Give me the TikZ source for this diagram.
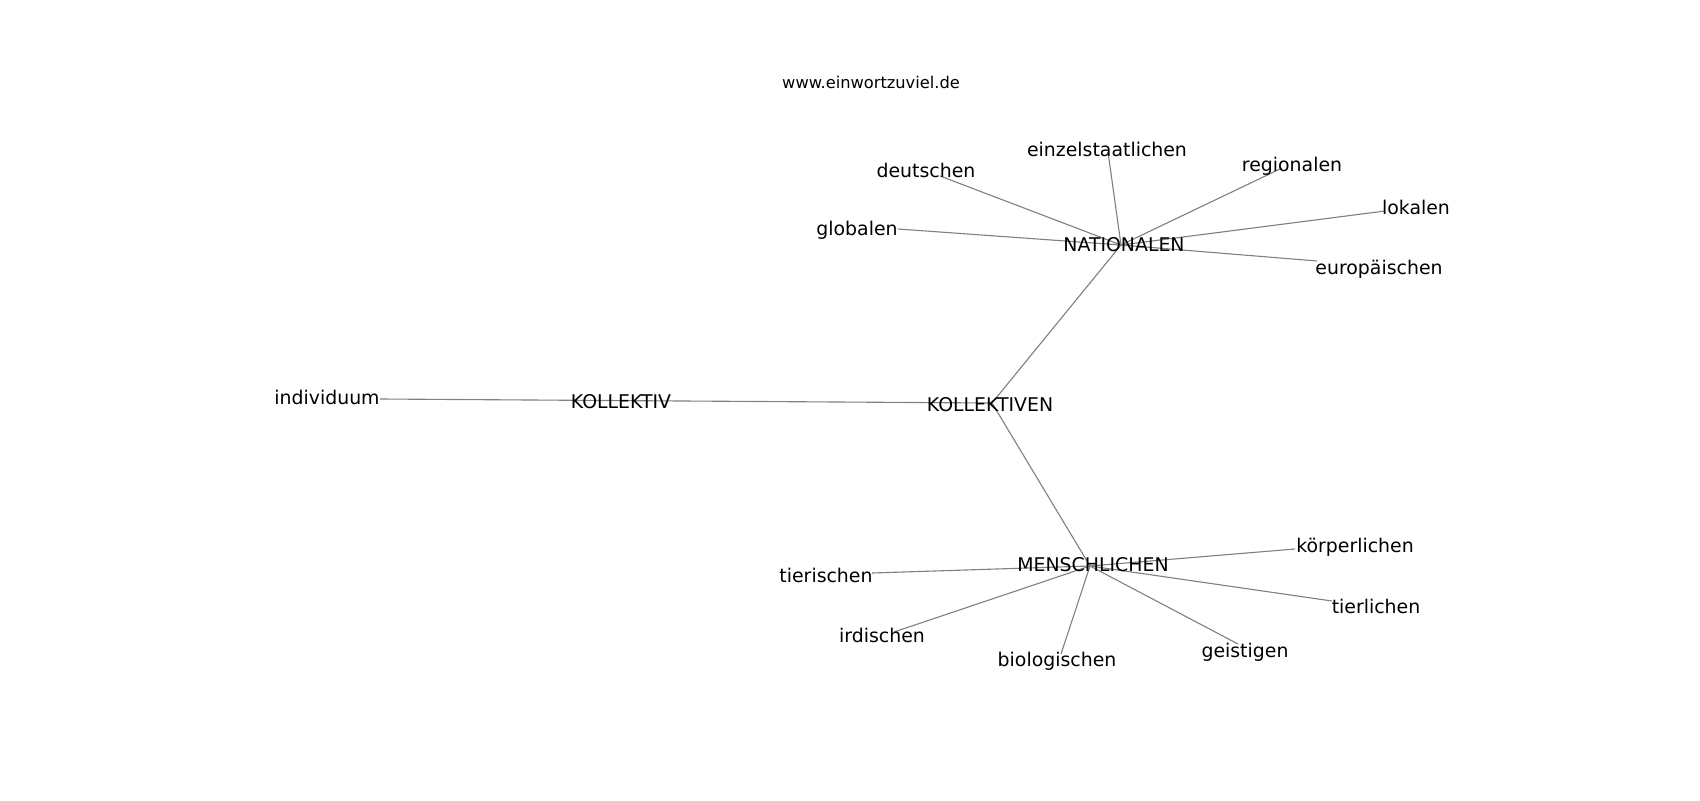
\documentclass[tikz,border=0pt]{standalone}
\usepackage{fontspec}
\setmainfont{DejaVu Sans}
\begin{document}
\begin{tikzpicture}[x=0.72pt,y=-0.72pt,
  lbl/.style={inner sep=0pt,font=\fontsize{13.6pt}{16pt}\selectfont,text height=9.9pt,text depth=0pt,anchor=center,yshift=-1pt},
  ttl/.style={inner sep=0pt,font=\fontsize{11.7pt}{14pt}\selectfont,text height=8.5pt,text depth=0pt,anchor=center},
  edge/.style={draw=black!50,line width=0.8pt}]
\useasboundingbox (0,0) rectangle (1700,800);
% node positions
\coordinate (pind) at (380,399);
\coordinate (pkol) at (621,400.6);
\coordinate (pkoln) at (992,403);
\coordinate (pnat) at (1121,245);
\coordinate (pmen) at (1090,566);
\coordinate (pdeu) at (940,176);
\coordinate (pein) at (1108,152);
\coordinate (preg) at (1282,168);
\coordinate (plok) at (1385,211);
\coordinate (peur) at (1317,261);
\coordinate (pglo) at (898,229);
\coordinate (ptis) at (872,573);
\coordinate (pird) at (894,632);
\coordinate (pbio) at (1061,654);
\coordinate (pgei) at (1238,644);
\coordinate (ptil) at (1332,601);
\coordinate (pkor) at (1295,549);
% edges
\draw[edge] (pind) -- (pkol);
\draw[edge] (pkol) -- (pkoln);
\draw[edge] (pkoln) -- (pnat);
\draw[edge] (pkoln) -- (pmen);
\foreach \t in {pdeu,pein,preg,plok,peur,pglo} \draw[edge] (pnat) -- (\t);
\foreach \t in {ptis,pird,pbio,pgei,ptil,pkor} \draw[edge] (pmen) -- (\t);
% labels
\node[ttl] (title) at (871,83) {www.einwortzuviel.de};
\node[lbl] (individuum) at (327,396) {individuum};
\node[lbl] (kollektiv) at (621,400) {KOLLEKTIV};
\node[lbl] (kollektiven) at (990,403) {KOLLEKTIVEN};
\node[lbl] (nationalen) at (1124,243) {NATIONALEN};
\node[lbl] (menschlichen) at (1093,563) {MENSCHLICHEN};
\node[lbl] (deutschen) at (926,169) {deutschen};
\node[lbl] (einzel) at (1107,148) {einzelstaatlichen};
\node[lbl] (regionalen) at (1292,163) {regionalen};
\node[lbl] (lokalen) at (1416,206) {lokalen};
\node[lbl] (europaeischen) at (1379,266) {europäischen};
\node[lbl] (globalen) at (857,227) {globalen};
\node[lbl] (tierischen) at (826,574) {tierischen};
\node[lbl] (irdischen) at (882,634) {irdischen};
\node[lbl] (biologischen) at (1057,658) {biologischen};
\node[lbl] (geistigen) at (1245,649) {geistigen};
\node[lbl] (tierlichen) at (1376,605) {tierlichen};
\node[lbl] (koerperlichen) at (1355,544) {körperlichen};
\end{tikzpicture}
\end{document}
